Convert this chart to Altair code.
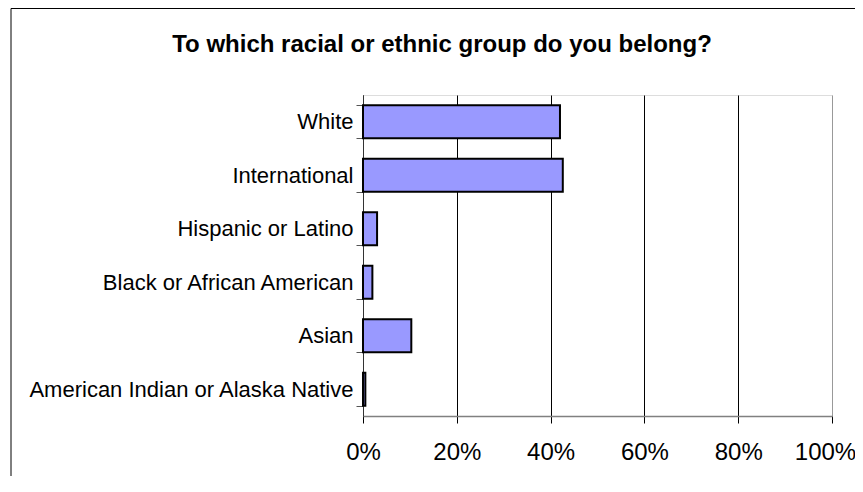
import altair as alt
import pandas as pd

categories = [
    "White",
    "International",
    "Hispanic or Latino",
    "Black or African American",
    "Asian",
    "American Indian or Alaska Native",
]
shares = [0.420, 0.426, 0.030, 0.020, 0.103, 0.005]
x_ticks = [0, 0.2, 0.4, 0.6, 0.8, 1.0]
title_text = "To which racial or ethnic group do you belong?"

df = pd.DataFrame({"group": categories, "share": shares})

FONT = "Liberation Sans"

bars = alt.Chart(df).mark_bar(
    fill="#9999FF", stroke="black", strokeWidth=2
).encode(
    x=alt.X(
        "share:Q",
        scale=alt.Scale(domain=[0, 1], nice=False, zero=True),
        axis=alt.Axis(
            values=x_ticks,
            format=".0%",
            title=None,
            grid=True,
            gridColor={"condition": {"test": "datum.value >= 1", "value": "#999999"}, "value": "black"},
            gridWidth=1,
            domainColor="#808080",
            domainWidth=1.5,
            tickColor="black",
            tickSize=7,
            labelFontSize=24,
            labelFont=FONT,
            labelColor="black",
            labelPadding=17,
            labelFlush=False,
            labelOffset={"condition": {"test": "datum.value >= 1", "value": -7}, "value": 0},
        ),
    ),
    y=alt.Y(
        "group:N",
        sort=categories,
        scale=alt.Scale(paddingInner=0.38, paddingOuter=0.19),
        axis=alt.Axis(
            title=None,
            tickBand="extent",
            tickSize=7,
            tickColor="#555555",
            domainColor="#333333",
            domainWidth=1,
            labelFontSize=22,
            labelFont=FONT,
            labelColor="black",
            labelPadding=3,
            labelLimit=400,
        ),
    ),
)

frame = alt.Chart(pd.DataFrame({"k": [0]})).mark_rect(
    fill="transparent", stroke="black", strokeWidth=1
).encode(
    x=alt.value(-352),
    x2=alt.value(700),
    y=alt.value(-86.5),
    y2=alt.value(600),
)

chart = alt.layer(bars, frame).properties(
    width=469,
    height=321,
    autosize=alt.AutoSizeParams(type="none"),
    padding={"left": 355, "top": 87, "right": 23, "bottom": 60},
    title=alt.TitleParams(
        text=title_text,
        font=FONT,
        fontSize=24,
        fontWeight="bold",
        color="black",
        anchor="middle",
        frame="group",
        dx=-155.5,
        offset=0,
        dy=49,
    ),
).configure_view(
    stroke="#999999", strokeWidth=2
).configure(background="white")

chart.save("out.html", embed_options={"renderer": "svg", "actions": False})
